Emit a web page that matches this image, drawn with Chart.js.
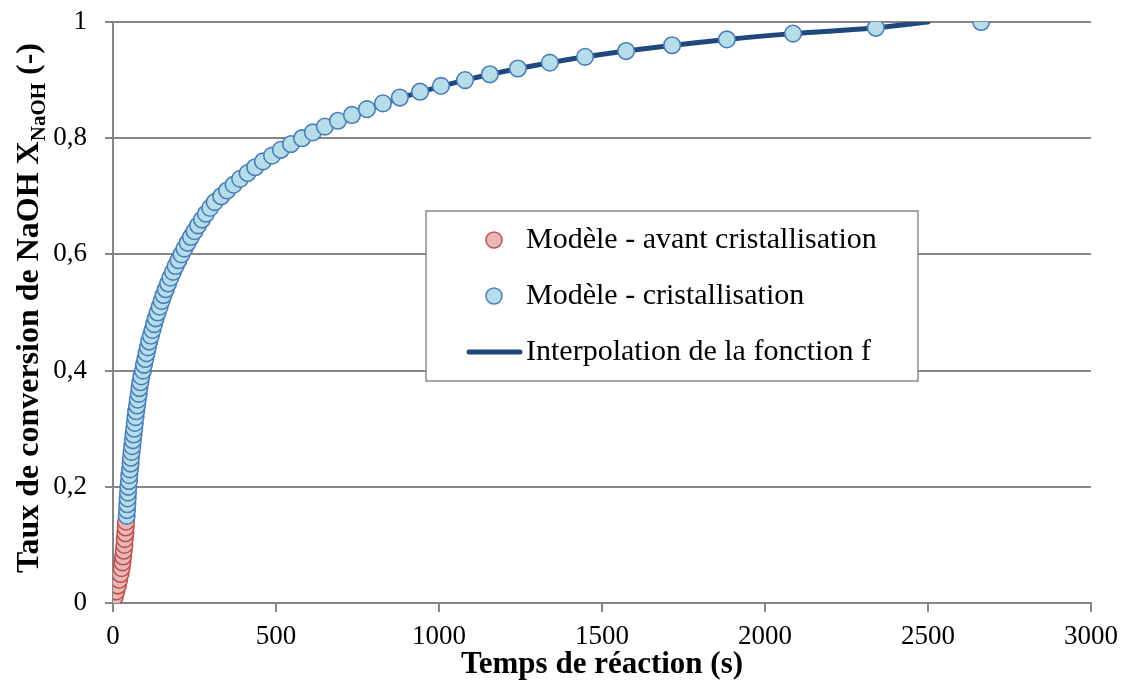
<!DOCTYPE html>
<html>
<head>
<meta charset="utf-8">
<script src="https://cdn.jsdelivr.net/npm/chart.js@4.4.1/dist/chart.umd.min.js"></script>
<style>
  body { margin: 0; background: #fff; }
  #wrap { width: 1126px; height: 689px; position: relative; }
</style>
</head>
<body>
<div id="wrap"><canvas id="convChart"></canvas></div>
<script>
// Modèle - avant cristallisation
const timeBefore = [0, 5, 10, 15, 19, 23, 26, 29, 31, 33, 35, 36, 38, 39, 40];
const convBefore = [0, 0.01, 0.02, 0.03, 0.04, 0.05, 0.06, 0.07, 0.08, 0.09, 0.10, 0.11, 0.12, 0.13, 0.14];

// Modèle - cristallisation
const timeCryst = [42, 43, 44, 45, 46, 47, 49, 50, 52, 54, 55, 57, 59, 61, 63, 65, 67, 69, 71, 74,
  76, 79, 81, 84, 87, 92, 95, 99, 103, 107, 111, 116, 121, 126, 131, 137, 143, 149, 155, 162,
  169, 176, 184, 192, 201, 210, 219, 229, 239, 250, 261, 273, 285, 298, 312, 332, 350, 370, 390, 413,
  436, 460, 488, 515, 546, 580, 613, 650, 690, 733, 779, 828, 880, 942, 1006, 1080, 1156, 1242, 1340, 1448,
  1574, 1715, 1883, 2086, 2340, 2663];
const convCryst = [0.15, 0.16, 0.17, 0.18, 0.19, 0.20, 0.21, 0.22, 0.23, 0.24, 0.25, 0.26, 0.27, 0.28, 0.29, 0.30, 0.31, 0.32, 0.33, 0.34,
  0.35, 0.36, 0.37, 0.38, 0.39, 0.40, 0.41, 0.42, 0.43, 0.44, 0.45, 0.46, 0.47, 0.48, 0.49, 0.50, 0.51, 0.52, 0.53, 0.54,
  0.55, 0.56, 0.57, 0.58, 0.59, 0.60, 0.61, 0.62, 0.63, 0.64, 0.65, 0.66, 0.67, 0.68, 0.69, 0.70, 0.71, 0.72, 0.73, 0.74,
  0.75, 0.76, 0.77, 0.78, 0.79, 0.80, 0.81, 0.82, 0.83, 0.84, 0.85, 0.86, 0.87, 0.88, 0.89, 0.90, 0.91, 0.92, 0.93, 0.94,
  0.95, 0.96, 0.97, 0.98, 0.99, 1.00];

// Interpolation de la fonction f
const timeFit = [42, 47, 65, 92, 137, 210, 332, 436, 580, 779, 1080, 1340, 1574, 1883, 2086, 2340, 2500];
const convFit = [0.15, 0.20, 0.30, 0.40, 0.50, 0.60, 0.70, 0.75, 0.80, 0.85, 0.90, 0.93, 0.95, 0.97, 0.98, 0.99, 1.00];

const xTicks = [0, 500, 1000, 1500, 2000, 2500, 3000];
const yTicks = [0, 0.2, 0.4, 0.6, 0.8, 1];

const labels = ["Modèle - avant cristallisation", "Modèle - cristallisation", "Interpolation de la fonction f"];

const pts = (xs, ys) => xs.map((x, i) => ({ x: x, y: ys[i] }));
const serif = "'Liberation Serif', 'DejaVu Serif', serif";

// y title with subscript, drawn rotated
const yTitle = {
  id: "yTitle",
  afterDraw(chart) {
    const c = chart.ctx;
    const big = "bold 32px " + serif, small = "bold 21px " + serif;
    const p1 = "Taux de conversion de NaOH X", p2 = "NaOH", p3 = " (-)";
    c.save();
    c.font = big; const w1 = c.measureText(p1).width, w3 = c.measureText(p3).width;
    c.font = small; const w2 = c.measureText(p2).width;
    const total = w1 + w2 + w3;
    c.translate(38, 308);
    c.rotate(-Math.PI / 2);
    c.fillStyle = "#000";
    c.textBaseline = "alphabetic";
    let x = -total / 2;
    c.font = big; c.fillText(p1, x, 0); x += w1;
    c.font = small; c.fillText(p2, x, 7); x += w2;
    c.font = big; c.fillText(p3, x, 0);
    c.restore();
  }
};

// boxed legend inside the plot
const boxLegend = {
  id: "boxLegend",
  afterDraw(chart) {
    const c = chart.ctx;
    const bx = 426, by = 211, bw = 492, bh = 170;
    c.save();
    c.fillStyle = "#fff";
    c.fillRect(bx, by, bw, bh);
    c.strokeStyle = "#8c8c8c";
    c.lineWidth = 1.5;
    c.strokeRect(bx, by, bw, bh);
    const rows = [240, 296, 352];
    c.font = "30px " + serif;
    c.textBaseline = "middle";
    chart.data.datasets.forEach((ds, i) => {
      const y = rows[i];
      if (i < 2) {
        c.beginPath();
        c.arc(494, y, 8, 0, Math.PI * 2);
        c.fillStyle = ds.backgroundColor;
        c.fill();
        c.lineWidth = 1.5;
        c.strokeStyle = ds.borderColor;
        c.stroke();
      } else {
        c.beginPath();
        c.moveTo(469, y);
        c.lineTo(520, y);
        c.lineWidth = 5;
        c.lineCap = "round";
        c.strokeStyle = ds.borderColor;
        c.stroke();
      }
      c.fillStyle = "#000";
      c.fillText(ds.label, 526, y);
    });
    c.restore();
  }
};

new Chart(document.getElementById("convChart"), {
  type: "scatter",
  data: {
    datasets: [
      {
        label: labels[0], data: pts(timeBefore, convBefore),
        backgroundColor: "#E6B9B8", borderColor: "#C0504D",
        pointRadius: 8.3, pointBorderWidth: 1.6, order: 2
      },
      {
        label: labels[1], data: pts(timeCryst, convCryst),
        backgroundColor: "#B7DEE8", borderColor: "#4A7EBB",
        pointRadius: 8.3, pointBorderWidth: 1.6, order: 1
      },
      {
        label: labels[2], data: pts(timeFit, convFit),
        showLine: true, borderColor: "#1F497D", backgroundColor: "#1F497D",
        borderWidth: 5, pointRadius: 0, cubicInterpolationMode: "monotone",
        borderCapStyle: "round", order: 3
      }
    ]
  },
  options: {
    responsive: true,
    maintainAspectRatio: false,
    animation: false,
    layout: { padding: { top: 22, right: 35, left: 0, bottom: 0 } },
    plugins: { legend: { display: false }, tooltip: { enabled: false } },
    scales: {
      x: {
        type: "linear", min: 0, max: 3000,
        afterBuildTicks: s => { s.ticks = xTicks.map(v => ({ value: v })); },
        afterFit: s => { s.height = 86; s.paddingLeft = 0; s.paddingRight = 0; },
        ticks: { font: { family: serif, size: 27 }, color: "#000", padding: 9, callback: v => String(v), maxRotation: 0 },
        grid: { drawOnChartArea: false, drawTicks: true, tickLength: 9, color: "#868686", lineWidth: 2 },
        border: { color: "#868686", width: 2 },
        title: { display: true, text: "Temps de réaction (s)", color: "#000",
          font: { family: serif, size: 31, weight: "bold" }, padding: { top: 0, bottom: 5 } }
      },
      y: {
        type: "linear", min: 0, max: 1,
        afterBuildTicks: s => { s.ticks = yTicks.map(v => ({ value: v })); },
        afterFit: s => { s.width = 113; s.paddingTop = 0; s.paddingBottom = 0; },
        ticks: { font: { family: serif, size: 27 }, color: "#000", padding: 18,
          callback: v => (Math.round(v * 10) / 10).toString().replace(".", ",") },
        grid: { color: "#868686", lineWidth: 2, tickLength: 8 },
        border: { color: "#868686", width: 2 }
      }
    }
  },
  plugins: [yTitle, boxLegend]
});
</script>
</body>
</html>
